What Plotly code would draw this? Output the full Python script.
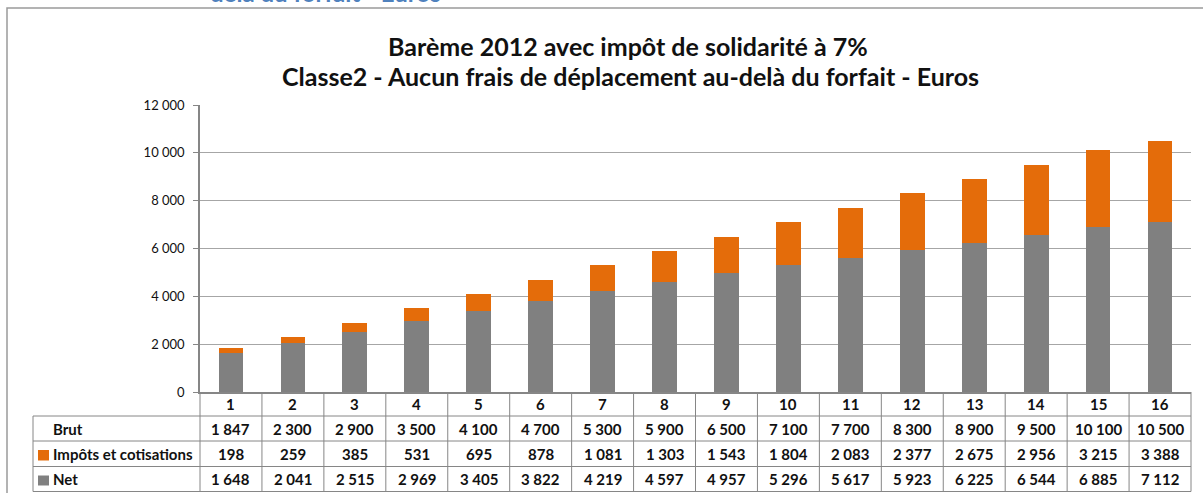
import plotly.graph_objects as go

# Salary bands and amounts (euros)
categories = list(range(1, 17))
brut = [1847, 2300, 2900, 3500, 4100, 4700, 5300, 5900, 6500, 7100, 7700, 8300, 8900, 9500, 10100, 10500]
impots = [198, 259, 385, 531, 695, 878, 1081, 1303, 1543, 1804, 2083, 2377, 2675, 2956, 3215, 3388]
net = [1648, 2041, 2515, 2969, 3405, 3822, 4219, 4597, 4957, 5296, 5617, 5923, 6225, 6544, 6885, 7112]
y_ticks = [0, 2000, 4000, 6000, 8000, 10000, 12000]
y_tick_labels = ["0", "2 000", "4 000", "6 000", "8 000", "10 000", "12 000"]

GREY = "#808080"
ORANGE = "#E46C0A"
LINE = "#A6A6A6"
AXIS = "#868686"
TXT = "#111111"
FONT = "Lato"

W, H = 1203, 493
L, R, T, B = 200, 12, 105, 101
PW, PH = W - L - R, H - T - B


def px(xp):
    return (xp - L) / PW


def py(yp):
    return (H - B - yp) / PH


def fmt(v):
    return f"{v:,}".replace(",", " ")


fig = go.Figure()
fig.add_trace(go.Bar(x=categories, y=net, name="Net", marker=dict(color=GREY, line_width=0), width=0.4))
fig.add_trace(go.Bar(x=categories, y=impots, name="Impôts et cotisations",
                     marker=dict(color=ORANGE, line_width=0), width=0.4))

shapes = []
annotations = []

# outer chart frame
shapes.append(dict(type="rect", xref="paper", yref="paper", x0=px(7), x1=px(1215), y0=py(505), y1=py(8),
                   line=dict(color="#9a9a9a", width=1.5), layer="below"))

# data table grid
n = len(categories)
row_edges = [392, 416, 441, 466.5, 491.5]
for i in range(n + 1):
    shapes.append(dict(type="line", xref="paper", yref="paper", x0=i / n, x1=i / n,
                       y0=py(row_edges[0]), y1=py(row_edges[-1]), line=dict(color=AXIS, width=1)))
shapes.append(dict(type="line", xref="paper", yref="paper", x0=px(33), x1=px(33),
                   y0=py(row_edges[1]), y1=py(row_edges[-1]), line=dict(color=AXIS, width=1)))
for ye in row_edges[1:]:
    shapes.append(dict(type="line", xref="paper", yref="paper", x0=px(33), x1=1,
                       y0=py(ye), y1=py(ye), line=dict(color=AXIS, width=1)))

# legend keys inside the table
shapes.append(dict(type="rect", xref="paper", yref="paper", x0=px(38), x1=px(49), y0=py(460.5), y1=py(450),
                   fillcolor=ORANGE, line_width=0))
shapes.append(dict(type="rect", xref="paper", yref="paper", x0=px(38), x1=px(49), y0=py(485.5), y1=py(475.5),
                   fillcolor=GREY, line_width=0))

cell_font = dict(family=FONT, size=15, color=TXT)
row_centres = [(row_edges[j] + row_edges[j + 1]) / 2 for j in range(4)]
rows = [[str(c) for c in categories], [fmt(v) for v in brut], [fmt(v) for v in impots], [fmt(v) for v in net]]
for j, row in enumerate(rows):
    for c, t in zip(categories, row):
        annotations.append(dict(xref="x", yref="paper", x=c, y=py(row_centres[j]), text=f"<b>{t}</b>",
                                showarrow=False, font=cell_font, xanchor="center", yanchor="middle"))
for j, lab in [(1, "Brut"), (2, "Impôts et cotisations"), (3, "Net")]:
    annotations.append(dict(xref="paper", yref="paper", x=px(51), y=py(row_centres[j]), text=f"<b>{lab}</b>",
                            showarrow=False, font=cell_font, xanchor="left", yanchor="middle"))

# titles
annotations.append(dict(xref="paper", yref="paper", x=px(628), y=py(46),
                        text="<b>Barème 2012 avec impôt de solidarité à 7%</b>", showarrow=False,
                        font=dict(family=FONT, size=25, color=TXT), xanchor="center", yanchor="middle"))
annotations.append(dict(xref="paper", yref="paper", x=px(630), y=py(76),
                        text="<b>Classe2 - Aucun frais de déplacement au-delà du forfait - Euros</b>",
                        showarrow=False, font=dict(family=FONT, size=25, color=TXT),
                        xanchor="center", yanchor="middle"))
# heading of the page above the chart frame
annotations.append(dict(xref="paper", yref="paper", x=px(325), y=py(9),
                        text="<b>delà du forfait - Euros</b>", showarrow=False,
                        font=dict(family=FONT, size=24, color="#4F81BD"),
                        xanchor="center", yanchor="bottom"))

fig.update_layout(
    barmode="stack",
    width=W, height=H,
    margin=dict(l=L, r=R, t=T, b=B, pad=0),
    paper_bgcolor="white", plot_bgcolor="white",
    showlegend=False,
    shapes=shapes,
    annotations=annotations,
    xaxis=dict(range=[0.5, n + 0.5], showticklabels=False, ticks="", showgrid=False,
               showline=True, linecolor=AXIS, linewidth=1.5, zeroline=False, fixedrange=True),
    yaxis=dict(range=[0, 12000], tickvals=y_ticks, ticktext=y_tick_labels, ticks="outside", ticklen=5,
               tickcolor=AXIS, showline=True, linecolor=AXIS, linewidth=1.5, gridcolor=LINE, gridwidth=1,
               zeroline=False, tickfont=dict(family=FONT, size=13, color=TXT), ticklabelstandoff=6),
)

fig.write_html("out.html")
